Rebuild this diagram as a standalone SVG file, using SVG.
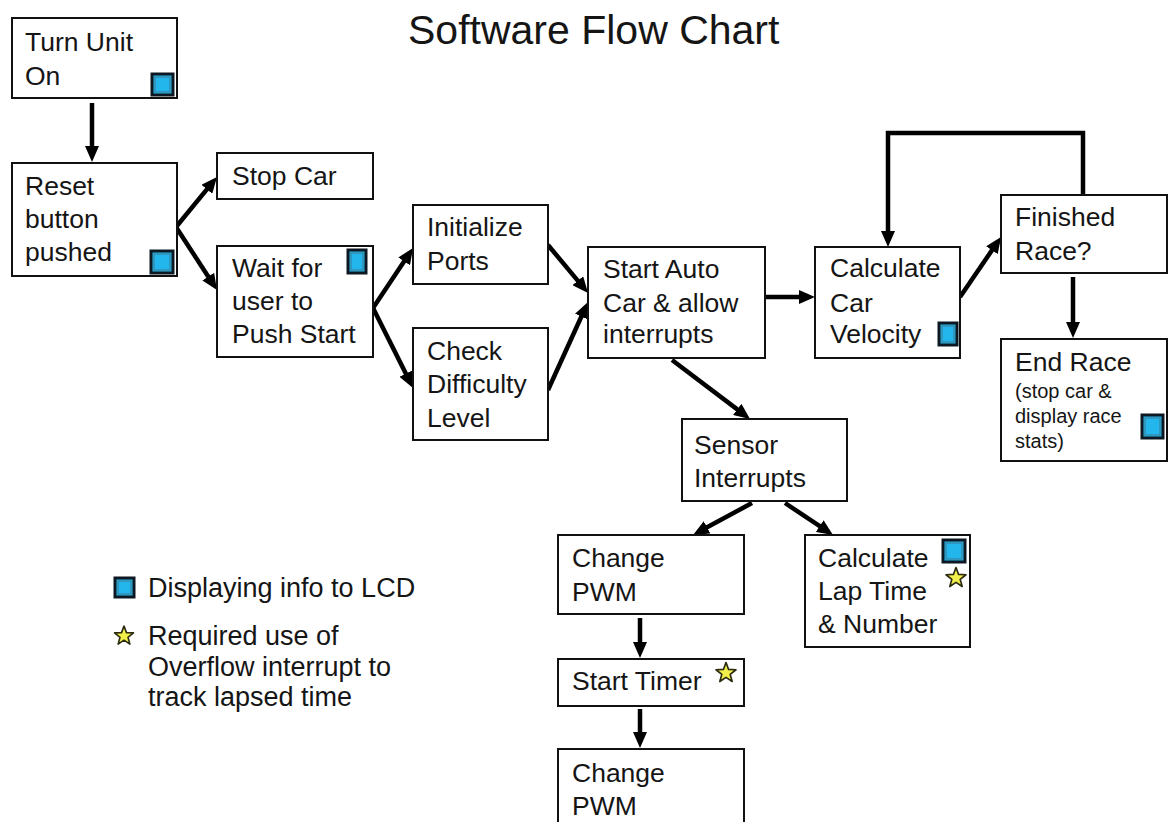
<svg xmlns="http://www.w3.org/2000/svg" xmlns:xlink="http://www.w3.org/1999/xlink" width="1169" height="822" viewBox="0 0 1169 822">
  <style>
    text { font-family: "Liberation Sans", Arial, sans-serif; fill: #151515; }
    .t { font-size: 26.5px; }
    .s { font-size: 20px; }
    .lg { font-size: 27px; }
    .title { font-size: 41px; }
    .box { fill: #ffffff; stroke: #111111; stroke-width: 2; }
    .lcd { fill: #22b6ec; stroke: #0e1822; stroke-width: 3; }
    .lcdin { fill: none; stroke: #3f7890; stroke-width: 1; }
    .star { fill: #f2ef4a; stroke: #2a2a10; stroke-width: 1.6; stroke-linejoin: round; }
    .arrow { fill: none; stroke: #000000; stroke-width: 4.5; marker-end: url(#head); }
  </style>
  <defs>
    <marker id="head" markerUnits="userSpaceOnUse" markerWidth="16" markerHeight="14" refX="10" refY="7" orient="auto">
      <path d="M0,0 L16,7 L0,14 Z" fill="#000000"/>
    </marker>
    <path id="starShape" d="M0,-10 L2.47,-3.4 L9.51,-3.09 L3.99,1.3 L5.88,8.09 L0,4.2 L-5.88,8.09 L-3.99,1.3 L-9.51,-3.09 L-2.47,-3.4 Z"/>
  </defs>

  <rect width="1169" height="822" fill="#ffffff"/>

  <text class="title" x="408" y="44">Software Flow Chart</text>

  <!-- connectors -->
  <g id="connectors">
    <line class="arrow" x1="92" y1="103" x2="92" y2="156"/>
    <line class="arrow" x1="176" y1="227" x2="213.2" y2="181.6"/>
    <line class="arrow" x1="176" y1="227" x2="213.7" y2="285"/>
    <line class="arrow" x1="373" y1="308" x2="409.7" y2="253"/>
    <line class="arrow" x1="373" y1="308" x2="410.3" y2="382.6"/>
    <line class="arrow" x1="548" y1="245" x2="584.2" y2="288.4"/>
    <line class="arrow" x1="548" y1="390" x2="585.5" y2="307.5"/>
    <line class="arrow" x1="765" y1="297" x2="809" y2="297"/>
    <line class="arrow" x1="672" y1="360" x2="745.2" y2="415.4"/>
    <line class="arrow" x1="960" y1="297" x2="997.6" y2="242"/>
    <path class="arrow" d="M1083,195 V133 H888 V241"/>
    <line class="arrow" x1="1073" y1="277" x2="1073" y2="332"/>
    <line class="arrow" x1="752" y1="503" x2="698.3" y2="532.1"/>
    <line class="arrow" x1="785" y1="503" x2="828" y2="531.7"/>
    <line class="arrow" x1="640" y1="618" x2="640" y2="652"/>
    <line class="arrow" x1="640" y1="709" x2="640" y2="742"/>
  </g>

  <g id="turn-on">
    <rect class="box" x="12" y="18" width="165" height="80"/>
    <text class="t" x="25" y="51">Turn Unit</text>
    <text class="t" x="25" y="85">On</text>
    <rect class="lcd" x="152" y="74" width="21" height="21"/>
    <rect class="lcdin" x="155" y="77" width="15" height="15"/>
  </g>

  <g id="reset">
    <rect class="box" x="12" y="163" width="165" height="113"/>
    <text class="t" x="25" y="195">Reset</text>
    <text class="t" x="25" y="228">button</text>
    <text class="t" x="25" y="261">pushed</text>
    <rect class="lcd" x="151" y="251" width="22" height="22"/>
    <rect class="lcdin" x="154" y="254" width="16" height="16"/>
  </g>

  <g id="stop-car">
    <rect class="box" x="217" y="153" width="156" height="46"/>
    <text class="t" x="232" y="185">Stop Car</text>
  </g>

  <g id="wait-start">
    <rect class="box" x="217" y="246" width="156" height="111"/>
    <text class="t" x="232" y="277">Wait for</text>
    <text class="t" x="232" y="310">user to</text>
    <text class="t" x="232" y="343">Push Start</text>
    <rect class="lcd" x="348" y="250" width="18" height="23"/>
    <rect class="lcdin" x="351" y="253" width="12" height="17"/>
  </g>

  <g id="init-ports">
    <rect class="box" x="413" y="205" width="135" height="79"/>
    <text class="t" x="427" y="236">Initialize</text>
    <text class="t" x="427" y="270">Ports</text>
  </g>

  <g id="check-difficulty">
    <rect class="box" x="413" y="328" width="135" height="112"/>
    <text class="t" x="427" y="360">Check</text>
    <text class="t" x="427" y="393">Difficulty</text>
    <text class="t" x="427" y="427">Level</text>
  </g>

  <g id="start-auto">
    <rect class="box" x="588" y="247" width="177" height="111"/>
    <text class="t" x="603" y="278">Start Auto</text>
    <text class="t" x="603" y="312">Car &amp; allow</text>
    <text class="t" x="603" y="343">interrupts</text>
  </g>

  <g id="calc-velocity">
    <rect class="box" x="815" y="247" width="145" height="111"/>
    <text class="t" x="830" y="277">Calculate</text>
    <text class="t" x="830" y="312">Car</text>
    <text class="t" x="830" y="343">Velocity</text>
    <rect class="lcd" x="939" y="323" width="18" height="22"/>
    <rect class="lcdin" x="942" y="326" width="12" height="16"/>
  </g>

  <g id="finished-race">
    <rect class="box" x="1001" y="195" width="166" height="78"/>
    <text class="t" x="1015" y="226">Finished</text>
    <text class="t" x="1015" y="260">Race?</text>
  </g>

  <g id="end-race">
    <rect class="box" x="1001" y="339" width="166" height="122"/>
    <text class="t" x="1015" y="371">End Race</text>
    <text class="s" x="1015" y="398">(stop car &amp;</text>
    <text class="s" x="1015" y="423">display race</text>
    <text class="s" x="1015" y="448">stats)</text>
    <rect class="lcd" x="1142" y="415" width="21" height="23"/>
    <rect class="lcdin" x="1145" y="418" width="15" height="17"/>
  </g>

  <g id="sensor-interrupts">
    <rect class="box" x="682" y="419" width="165" height="82"/>
    <text class="t" x="694" y="454">Sensor</text>
    <text class="t" x="694" y="487">Interrupts</text>
  </g>

  <g id="change-pwm-1">
    <rect class="box" x="558" y="535" width="186" height="79"/>
    <text class="t" x="572" y="567">Change</text>
    <text class="t" x="572" y="601">PWM</text>
  </g>

  <g id="calc-lap">
    <rect class="box" x="805" y="535" width="165" height="112"/>
    <text class="t" x="818" y="567">Calculate</text>
    <text class="t" x="818" y="600">Lap Time</text>
    <text class="t" x="818" y="633">&amp; Number</text>
    <rect class="lcd" x="943" y="540" width="22" height="22"/>
    <rect class="lcdin" x="946" y="543" width="16" height="16"/>
    <use xlink:href="#starShape" class="star" transform="translate(956,578) scale(1.05)"/>
  </g>

  <g id="start-timer">
    <rect class="box" x="558" y="659" width="186" height="47"/>
    <text class="t" x="572" y="690">Start Timer</text>
    <use xlink:href="#starShape" class="star" transform="translate(726,673) scale(1.05)"/>
  </g>

  <g id="change-pwm-2">
    <rect class="box" x="558" y="749" width="186" height="90"/>
    <text class="t" x="572" y="782">Change</text>
    <text class="t" x="572" y="815">PWM</text>
  </g>

  <g id="legend">
    <rect class="lcd" x="115" y="578" width="19" height="19"/>
    <rect class="lcdin" x="118" y="581" width="13" height="13"/>
    <text class="lg" x="148" y="597">Displaying info to LCD</text>
    <use xlink:href="#starShape" class="star" transform="translate(124,636)"/>
    <text class="lg" x="148" y="645">Required use of</text>
    <text class="lg" x="148" y="676">Overflow interrupt to</text>
    <text class="lg" x="148" y="706">track lapsed time</text>
  </g>
</svg>
